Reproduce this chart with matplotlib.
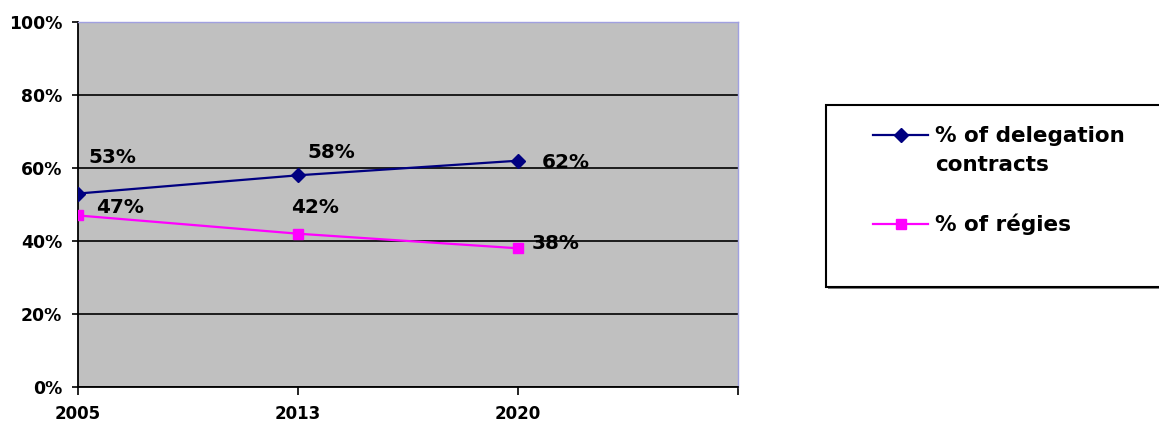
import matplotlib
matplotlib.use("Agg")
import matplotlib.pyplot as plt
from matplotlib.lines import Line2D
from matplotlib.patches import Rectangle

years = ["2005", "2013", "2020"]
delegation = [53, 58, 62]
regies = [47, 42, 38]
y_ticks = [0, 20, 40, 60, 80, 100]

W, H = 1159, 425


def fx(px):
    return px / W


def fy(py):
    return 1 - py / H


fig = plt.figure(figsize=(W / 100, H / 100), dpi=100)
ax = fig.add_axes([fx(78), fy(387), fx(738) - fx(78), fy(22) - fy(387)])
ax.set_facecolor("#C0C0C0")

x = list(range(len(years)))
ax.plot(x, delegation, color="#000080", lw=1.6, marker="D", ms=7.5,
        markeredgecolor="#000080", zorder=3)
ax.plot(x, regies, color="#FF00FF", lw=1.6, marker="s", ms=7.5,
        markeredgecolor="#FF00FF", zorder=3)

# value labels, offsets in points
off_del = [(24.5, 26.3), (23.8, 16.6), (34.6, -1.4)]
off_reg = [(30.2, 5.8), (12.2, 18.7), (27.4, 3.6)]
for xi, v, o in zip(x, delegation, off_del):
    ax.annotate(f"{v}%", (xi, v), xytext=o, textcoords="offset points",
                ha="center", va="center", fontsize=14.4, fontweight="bold")
for xi, v, o in zip(x, regies, off_reg):
    ax.annotate(f"{v}%", (xi, v), xytext=o, textcoords="offset points",
                ha="center", va="center", fontsize=14.4, fontweight="bold")

ax.set_xlim(0, 3)
ax.set_ylim(0, 100)
ax.set_xticks([0, 1, 2, 3])
ax.set_xticklabels(years + [""], fontsize=12, fontweight="bold")
ax.set_yticks(y_ticks)
ax.set_yticklabels([f"{t}%" for t in y_ticks], fontsize=12.4, fontweight="bold")
ax.tick_params(axis="x", length=6, width=1.2, pad=7)
ax.tick_params(axis="y", length=4.3, width=1.2, pad=7)

ax.set_axisbelow(True)
ax.yaxis.grid(True, color="black", lw=1.2)
ax.spines["left"].set_linewidth(1.3)
ax.spines["bottom"].set_linewidth(1.3)
ax.spines["top"].set_color("#A0A0E0")
ax.spines["right"].set_color("#A0A0E0")
ax.spines["top"].set_linewidth(1)
ax.spines["right"].set_linewidth(1)

# legend box drawn by hand
fig.patches.append(Rectangle((fx(828), fy(289)), fx(1165) - fx(828), fy(107) - fy(289),
                             transform=fig.transFigure, facecolor="#808080",
                             edgecolor="none", zorder=1))
fig.patches.append(Rectangle((fx(826), fy(287)), fx(1165) - fx(826), fy(105) - fy(287),
                             transform=fig.transFigure, facecolor="white",
                             edgecolor="black", lw=1.5, zorder=2))

entries = [("% of delegation\ncontracts", "#000080", "D", 135),
           ("% of régies", "#FF00FF", "s", 224)]
for label, color, marker, py in entries:
    fig.add_artist(Line2D([fx(873), fx(928)], [fy(py), fy(py)], color=color, lw=1.6,
                          transform=fig.transFigure, zorder=3))
    fig.add_artist(Line2D([fx(901)], [fy(py)], color=color, marker=marker, ms=7.5,
                          transform=fig.transFigure, zorder=4))
    if "\n" in label:
        fig.text(fx(935), fy(py - 9), label, fontsize=15.5, fontweight="bold",
                 ha="left", va="top", linespacing=1.55, zorder=5)
    else:
        fig.text(fx(935), fy(py), label, fontsize=15.5, fontweight="bold",
                 ha="left", va="center", zorder=5)

fig.savefig("out.png", dpi=100)
